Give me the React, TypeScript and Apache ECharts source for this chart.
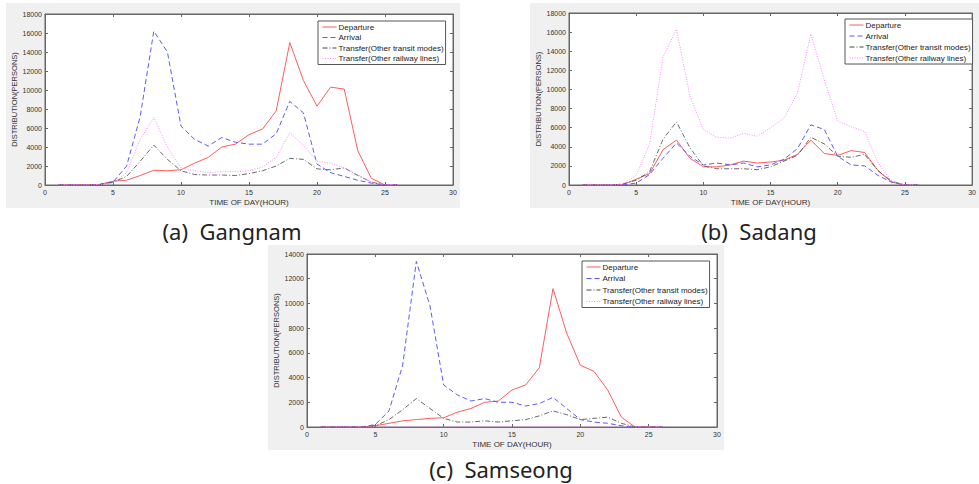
import React, { useEffect, useRef } from "react";
import * as echarts from "echarts";

const hours = [1, 2, 3, 4, 5, 6, 7, 8, 9, 10, 11, 12, 13, 14, 15, 16, 17, 18, 19, 20, 21, 22, 23, 24, 25, 26];

const seriesNames = [
  "Departure",
  "Arrival",
  "Transfer(Other transit modes)",
  "Transfer(Other railway lines)",
];

// (a) Gangnam
const gangnamDeparture = [0, 0, 0, 50, 400, 500, 1000, 1550, 1500, 1600, 2300, 2900, 4000, 4300, 5300, 5900, 7800, 15000, 11000, 8300, 10300, 10100, 3600, 700, 0, 0];
const gangnamArrival = [0, 0, 0, 50, 300, 2000, 7200, 16200, 14000, 6200, 4800, 4100, 5000, 4500, 4300, 4300, 5400, 8800, 7600, 2200, 1300, 900, 500, 200, 0, 0];
const gangnamTransit = [0, 0, 0, 50, 300, 900, 2500, 4200, 2700, 1500, 1100, 1050, 1050, 1000, 1200, 1500, 2000, 2800, 2700, 1700, 1600, 1800, 1000, 300, 0, 0];
const gangnamRailway = [0, 0, 0, 50, 200, 1300, 4800, 7100, 4000, 1800, 1500, 1300, 1400, 1400, 1500, 1900, 2900, 5500, 4200, 2500, 2300, 1800, 1100, 300, 50, 0];

// (b) Sadang
const sadangDeparture = [0, 0, 0, 50, 600, 1200, 3700, 4700, 2800, 1900, 1900, 2100, 2500, 2300, 2400, 2600, 3200, 4700, 3300, 3100, 3600, 3400, 1500, 300, 0, 0];
const sadangArrival = [0, 0, 0, 0, 200, 1100, 2800, 4400, 3000, 2100, 2300, 2100, 2300, 1900, 2100, 2700, 3800, 6300, 5800, 3000, 2100, 2000, 1000, 300, 0, 0];
const sadangTransit = [0, 0, 0, 100, 500, 1400, 4800, 6600, 3900, 2000, 1700, 1700, 1700, 1600, 1900, 2500, 3100, 5000, 4300, 3000, 2900, 3200, 1500, 400, 0, 0];
const sadangRailway = [0, 0, 0, 100, 1000, 4300, 13400, 16300, 9300, 5800, 5000, 4900, 5400, 5100, 6000, 7000, 9600, 15800, 11000, 6700, 6100, 5600, 2300, 400, 0, 0];

// (c) Samseong
const samseongDeparture = [0, 0, 0, 0, 100, 300, 500, 600, 700, 750, 1200, 1500, 2000, 2100, 3000, 3400, 4800, 11200, 7600, 5000, 4500, 3000, 800, 0, 0, 0];
const samseongArrival = [0, 0, 0, 0, 200, 1300, 5000, 13400, 9800, 3400, 2600, 2100, 2300, 2000, 2000, 1700, 1900, 2400, 1500, 600, 400, 300, 100, 0, 0, 0];
const samseongTransit = [0, 0, 0, 0, 100, 600, 1400, 2300, 1500, 700, 400, 400, 500, 400, 500, 600, 900, 1300, 1000, 600, 700, 800, 300, 0, 0, 0];
const samseongRailway = [0, 0, 0, 0, 0, 0, 0, 0, 0, 0, 0, 0, 0, 0, 0, 0, 0, 0, 0, 0, 0, 0, 0, 0, 0, 0];

const captions = ["(a)  Gangnam", "(b)  Sadang", "(c)  Samseong"];
const xAxisName = "TIME OF DAY(HOUR)";
const yAxisName = "DISTRIBUTION(PERSONS)";

const panelData = [
  [gangnamDeparture, gangnamArrival, gangnamTransit, gangnamRailway],
  [sadangDeparture, sadangArrival, sadangTransit, sadangRailway],
  [samseongDeparture, samseongArrival, samseongTransit, samseongRailway],
];
const panelYMax = [18000, 18000, 14000];

const lineStyles = [
  { color: "#ff5c5c", type: "solid" as any, width: 1 },
  { color: "#5a5aff", type: [5, 3] as any, width: 1 },
  { color: "#444444", type: [5, 2, 1, 2] as any, width: 0.8 },
  { color: "#ff88ff", type: [1, 1.5] as any, width: 1 },
];

const layout = [
  {
    grid: { left: 45, top: 14, width: 408, height: 171 },
    bg: { x: 6, y: 3, width: 454, height: 205 },
    legend: { left: 318, top: 21, itemGap: 2.5 },
    caption: { x: 232, y: 231 },
    yNameGap: 22,
    xNameGap: 13,
  },
  {
    grid: { left: 569, top: 13, width: 408, height: 172 },
    bg: { x: 530, y: 3, width: 460, height: 205 },
    legend: { left: 845, top: 19, itemGap: 3 },
    caption: { x: 759, y: 231 },
    yNameGap: 22,
    xNameGap: 13,
  },
  {
    grid: { left: 307, top: 254, width: 410, height: 173 },
    bg: { x: 268, y: 245, width: 456, height: 205 },
    legend: { left: 582, top: 261, itemGap: 3.5 },
    caption: { x: 501, y: 469 },
    yNameGap: 23,
    xNameGap: 13,
  },
];

const axisColor = "#666666";
const labelColor = "#333333";
const fontFamily = "'Liberation Sans', Arial, sans-serif";
const plainNumber = (v: number) => String(v);
const hiddenSymbol = { color: "transparent", borderColor: "transparent", borderWidth: 0, opacity: 0 };

export default function App() {
  const ref = useRef<HTMLDivElement>(null);

  useEffect(() => {
    if (!ref.current) return;
    const chart = echarts.init(ref.current, undefined, { renderer: "svg" });

    const grids: any[] = [];
    const xAxes: any[] = [];
    const yAxes: any[] = [];
    const series: any[] = [];
    const legends: any[] = [];
    const graphics: any[] = [];

    layout.forEach((L, i) => {
      grids.push({
        ...L.grid,
        show: true,
        backgroundColor: "#ffffff",
        borderColor: axisColor,
        borderWidth: 1,
        containLabel: false,
      });
      const baseAxis = {
        type: "value",
        gridIndex: i,
        axisLine: { show: true, onZero: false, lineStyle: { color: axisColor, width: 1 } },
        axisTick: { show: true, inside: true, length: 3, lineStyle: { color: axisColor } },
        splitLine: { show: false },
      };
      xAxes.push({
        ...baseAxis,
        position: "bottom",
        min: 0,
        max: 30,
        interval: 5,
        axisLabel: { fontSize: 7, color: labelColor, margin: 4, fontFamily, formatter: plainNumber },
        name: xAxisName,
        nameLocation: "middle",
        nameGap: L.xNameGap,
        nameTextStyle: { fontSize: 8, color: labelColor, fontFamily },
      });
      xAxes.push({
        ...baseAxis,
        position: "top",
        min: 0,
        max: 30,
        interval: 5,
        axisLabel: { show: false },
      });
      yAxes.push({
        ...baseAxis,
        position: "left",
        min: 0,
        max: panelYMax[i],
        interval: 2000,
        axisLabel: { fontSize: 7, color: labelColor, margin: 3, fontFamily, formatter: plainNumber },
        name: yAxisName,
        nameLocation: "middle",
        nameGap: L.yNameGap,
        nameRotate: 90,
        nameTextStyle: { fontSize: 7.5, color: labelColor, fontFamily },
      });
      yAxes.push({
        ...baseAxis,
        position: "right",
        min: 0,
        max: panelYMax[i],
        interval: 2000,
        axisLabel: { show: false },
      });

      panelData[i].forEach((vals, k) => {
        series.push({
          type: "line",
          name: seriesNames[k],
          xAxisIndex: i * 2,
          yAxisIndex: i * 2,
          data: hours.map((h, j) => [h, vals[j]]),
          symbol: "none",
          showSymbol: false,
          lineStyle: { ...lineStyles[k] },
          itemStyle: { color: lineStyles[k].color },
          z: 2 + k,
        });
      });

      legends.push({
        data: seriesNames.map((n, k) => ({
          name: n,
          itemStyle: hiddenSymbol,
          lineStyle: { color: lineStyles[k].color, type: lineStyles[k].type, width: 1 },
        })),
        orient: "vertical",
        left: L.legend.left,
        top: L.legend.top,
        itemWidth: 14,
        itemHeight: 8,
        itemGap: L.legend.itemGap,
        padding: [2, 2, 2, 4],
        backgroundColor: "#ffffff",
        borderColor: "#555555",
        borderWidth: 1,
        selectedMode: false,
        itemStyle: hiddenSymbol,
        textStyle: { fontSize: 8, color: "#222222", fontFamily, padding: [0, 0, 0, -3] },
      });

      graphics.push({
        type: "rect",
        shape: { ...L.bg },
        style: { fill: "#f0f0f0" },
        z: -100,
        silent: true,
      });
      graphics.push({
        type: "text",
        x: L.caption.x,
        y: L.caption.y,
        style: {
          text: captions[i],
          fontSize: 22,
          fontFamily: "'Noto Sans', sans-serif",
          fill: "#222222",
          align: "center",
          verticalAlign: "middle",
        },
        z: 10,
      });
    });

    chart.setOption({
      animation: false,
      backgroundColor: "#ffffff",
      grid: grids,
      xAxis: xAxes,
      yAxis: yAxes,
      series,
      legend: legends,
      graphic: { elements: graphics },
    });

    return () => {
      chart.dispose();
    };
  }, []);

  return (
    <div
      ref={ref}
      style={{ position: "fixed", left: 0, top: 0, width: 979, height: 484 }}
    />
  );
}
